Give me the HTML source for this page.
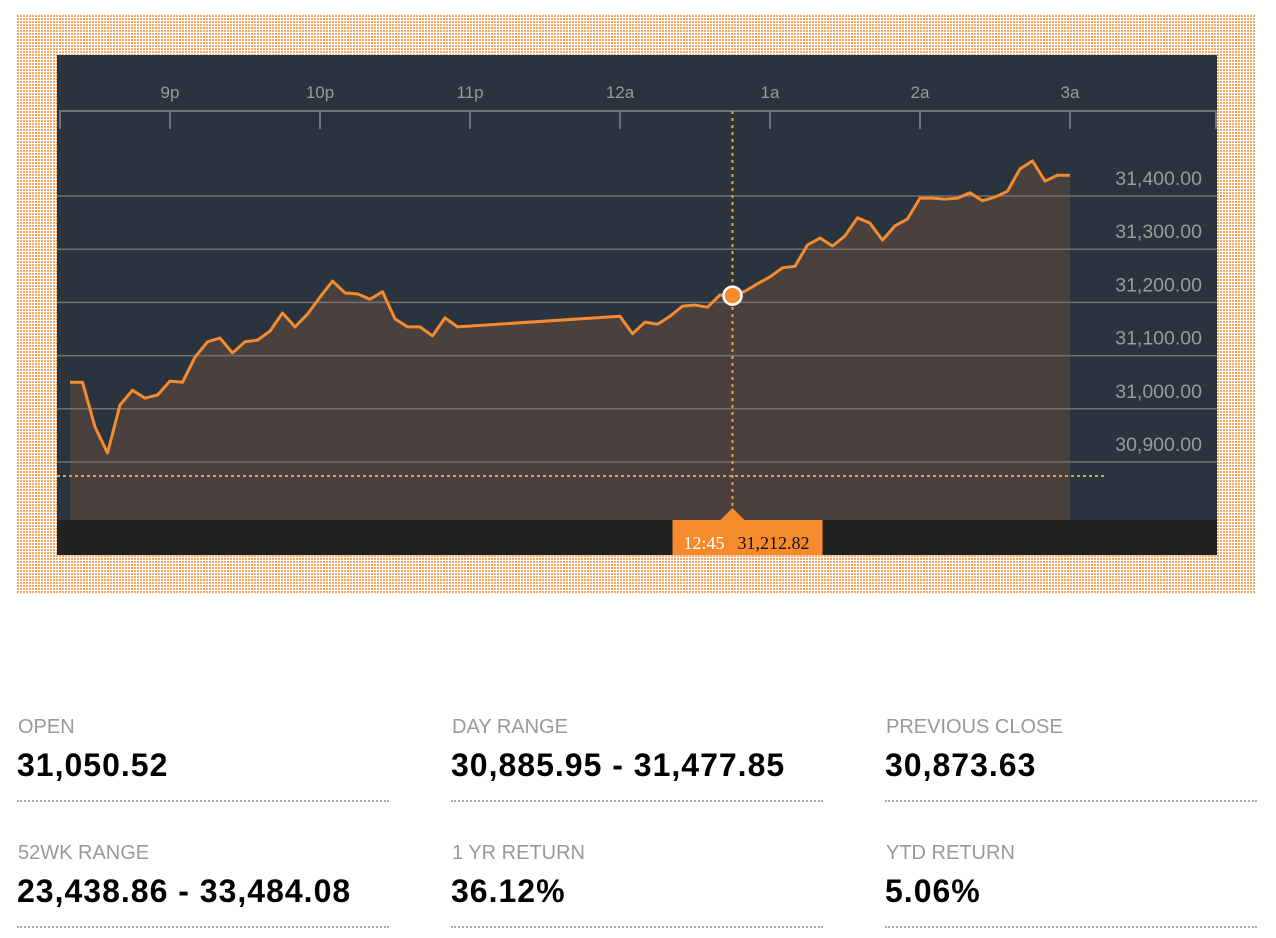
<!DOCTYPE html>
<html><head><meta charset="utf-8"><style>
body{margin:0;width:1276px;height:938px;background:#fff;position:relative;overflow:hidden;font-family:"Liberation Sans",sans-serif}
#pattern{position:absolute;left:16px;top:14px;width:1240px;height:580px;background-color:#f7a866;
background-image:linear-gradient(90deg,#fff 0 1px,transparent 1px),linear-gradient(#fff 0 1px,transparent 1px);background-size:3px 3px}
svg{position:absolute;left:0;top:0}
.stat{position:absolute;width:372px;border-bottom:2px dotted #aaa;height:84px}
.lab{position:absolute;top:0;font-size:20px;color:#999;left:1px}
.val{position:absolute;top:31px;font-size:32px;font-weight:bold;color:#000;left:0;letter-spacing:1px}
</style></head><body>
<div id="pattern"></div>
<svg id="chart" width="1276" height="600"></svg>
<div class="stat" style="left:17px;top:716px"><div class="lab">OPEN</div><div class="val">31,050.52</div></div>
<div class="stat" style="left:451px;top:716px"><div class="lab">DAY RANGE</div><div class="val">30,885.95 - 31,477.85</div></div>
<div class="stat" style="left:885px;top:716px"><div class="lab">PREVIOUS CLOSE</div><div class="val">30,873.63</div></div>
<div class="stat" style="left:17px;top:842px"><div class="lab">52WK RANGE</div><div class="val">23,438.86 - 33,484.08</div></div>
<div class="stat" style="left:451px;top:842px"><div class="lab">1 YR RETURN</div><div class="val">36.12%</div></div>
<div class="stat" style="left:885px;top:842px"><div class="lab">YTD RETURN</div><div class="val">5.06%</div></div>
<script>
// minutes from 9p
const times=[-40,-35,-30,-25,-20,-15,-10,-5,0,5,10,15,20,25,30,35,40,45,50,55,60,65,70,75,80,85,90,95,100,105,110,115,180,185,190,195,200,205,210,215,220,225,230,235,240,245,250,255,260,265,270,275,280,285,290,295,300,305,310,315,320,325,330,335,340,345,350,355,360];
const prices=[31050,31050,30966,30917,31007,31035,31020,31026,31052,31050,31097,31126,31133,31105,31126,31129,31146,31180,31154,31178,31210,31240,31218,31216,31206,31220,31169,31154,31154,31137,31171,31154,31174,31141,31163,31159,31174,31193,31195,31191,31214,31212.82,31221,31235,31248,31265,31268,31308,31321,31306,31325,31359,31349,31317,31344,31357,31396,31396,31394,31396,31406,31391,31398,31409,31451,31466,31428,31439,31439];
const xTickTimes=[0,60,120,180,240,300,360];
const xTickLabels=['9p','10p','11p','12a','1a','2a','3a'];
const yTicks=[31400,31300,31200,31100,31000,30900];
const prevClose=30873.63;
const cursorTime=225, cursorPrice=31212.82, cursorLabel='12:45';
const X=t=>170+t*2.5;
const Y=v=>196-(v-31400)*0.532;
const NS='http://www.w3.org/2000/svg';
const svg=document.getElementById('chart');
function mk(tag,attrs,parent){const e=document.createElementNS(NS,tag);for(const k in attrs)e.setAttribute(k,attrs[k]);(parent||svg).appendChild(e);return e;}
let e;
e=mk('rect',{x:57,y:55,width:1160,height:500,fill:'#2a343f'});


e=mk('rect',{x:57,y:520,width:1160,height:35,fill:'#222222'});


let d='M'+X(times[0])+',520';
times.forEach((t,i)=>{d+=' L'+X(t)+','+Y(prices[i]);});
d+=' L'+X(times[times.length-1])+',520 Z';
e=mk('path',{d:d,fill:'#4a403e'});


yTicks.forEach(v=>{
 e=mk('line',{x1:57,x2:1217,y1:Y(v),y2:Y(v),stroke:'#7a7a7a','stroke-width':1.5,'stroke-opacity':0.85});
 
 
 e=mk('text',{x:1202,y:Y(v)-11,'text-anchor':'end','font-size':19.5,fill:'#9a9a9a','font-family':'Liberation Sans, sans-serif'});
 e.textContent=v.toLocaleString('en-US',{minimumFractionDigits:2});
 
 
});
e=mk('path',{d:'M60,129 V111 H1216 V129',fill:'none',stroke:'#6d7177','stroke-width':2});


xTickTimes.forEach((t,i)=>{
 e=mk('line',{x1:X(t),x2:X(t),y1:111,y2:129,stroke:'#6d7177','stroke-width':2});
 
 
 e=mk('text',{x:X(t),y:98,'text-anchor':'middle','font-size':17,fill:'#9a9a9a','font-family':'Liberation Sans, sans-serif'});
 e.textContent=xTickLabels[i];
 
 
});
e=mk('line',{x1:57,x2:1105,y1:Y(prevClose),y2:Y(prevClose),stroke:'#d9a040','stroke-width':2,'stroke-dasharray':'3,3'});


e=mk('polyline',{points:times.map((t,i)=>X(t)+','+Y(prices[i])).join(' '),fill:'none',stroke:'#f68b2e','stroke-width':3,'stroke-linejoin':'round'});


const cx=X(cursorTime);
e=mk('line',{x1:cx,x2:cx,y1:111,y2:515,stroke:'#e8a530','stroke-width':2,'stroke-dasharray':'3,4'});


e=mk('circle',{cx:cx,cy:Y(cursorPrice),r:9,fill:'#f68b2e',stroke:'#fff','stroke-width':2.5});


e=mk('path',{d:'M'+(cx-60)+',520 H'+(cx-12)+' L'+cx+',508 L'+(cx+12)+',520 H'+(cx+90)+' V555 H'+(cx-60)+' Z',fill:'#f68b2e'});


e=mk('text',{x:cx-49,y:549,'font-size':18,fill:'#fff','font-family':'Liberation Serif, serif'});
e.textContent=cursorLabel;


e=mk('text',{x:cx+5,y:549,'font-size':18,fill:'#111','font-family':'Liberation Serif, serif'});
e.textContent=cursorPrice.toLocaleString('en-US',{minimumFractionDigits:2});


</script>
</body></html>
